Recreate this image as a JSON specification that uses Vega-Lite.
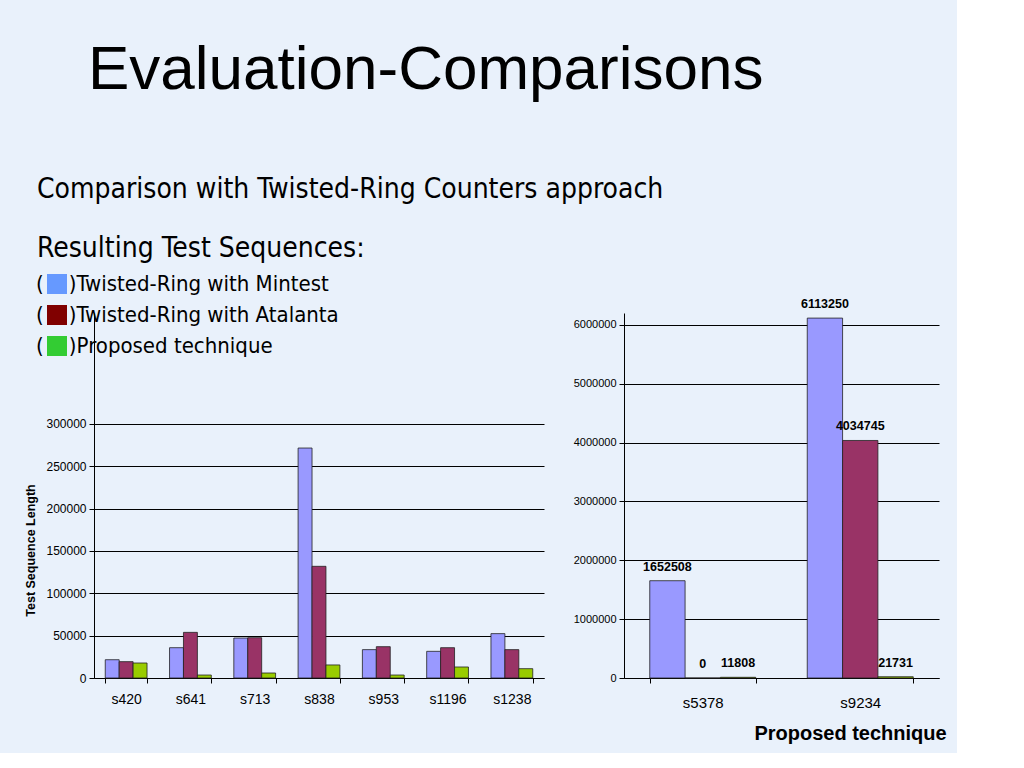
{
  "$schema": "https://vega.github.io/schema/vega-lite/v6.json",
  "background": "#e9f1fb",
  "padding": {"left": 24, "top": 39, "right": 10, "bottom": 10},
  "title": {
    "text": "Evaluation-Comparisons",
    "anchor": "start",
    "font": "Liberation Sans",
    "fontSize": 62,
    "fontWeight": "normal",
    "color": "#000000",
    "dx": 64,
    "offset": 74
  },
  "datasets": {
    "small": [
      {"circuit": "s420", "method": "Twisted-Ring with Mintest", "length": 21600},
      {"circuit": "s420", "method": "Twisted-Ring with Atalanta", "length": 19300},
      {"circuit": "s420", "method": "Proposed technique", "length": 17700},
      {"circuit": "s641", "method": "Twisted-Ring with Mintest", "length": 35800},
      {"circuit": "s641", "method": "Twisted-Ring with Atalanta", "length": 53900},
      {"circuit": "s641", "method": "Proposed technique", "length": 3500},
      {"circuit": "s713", "method": "Twisted-Ring with Mintest", "length": 47200},
      {"circuit": "s713", "method": "Twisted-Ring with Atalanta", "length": 47600},
      {"circuit": "s713", "method": "Proposed technique", "length": 5900},
      {"circuit": "s838", "method": "Twisted-Ring with Mintest", "length": 271600},
      {"circuit": "s838", "method": "Twisted-Ring with Atalanta", "length": 131900},
      {"circuit": "s838", "method": "Proposed technique", "length": 15400},
      {"circuit": "s953", "method": "Twisted-Ring with Mintest", "length": 33500},
      {"circuit": "s953", "method": "Twisted-Ring with Atalanta", "length": 37000},
      {"circuit": "s953", "method": "Proposed technique", "length": 3500},
      {"circuit": "s1196", "method": "Twisted-Ring with Mintest", "length": 31500},
      {"circuit": "s1196", "method": "Twisted-Ring with Atalanta", "length": 35800},
      {"circuit": "s1196", "method": "Proposed technique", "length": 13000},
      {"circuit": "s1238", "method": "Twisted-Ring with Mintest", "length": 52400},
      {"circuit": "s1238", "method": "Twisted-Ring with Atalanta", "length": 33500},
      {"circuit": "s1238", "method": "Proposed technique", "length": 11000}
    ],
    "large": [
      {"circuit": "s5378", "method": "Twisted-Ring with Mintest", "length": 1652508},
      {"circuit": "s5378", "method": "Twisted-Ring with Atalanta", "length": 0},
      {"circuit": "s5378", "method": "Proposed technique", "length": 11808},
      {"circuit": "s9234", "method": "Twisted-Ring with Mintest", "length": 6113250},
      {"circuit": "s9234", "method": "Twisted-Ring with Atalanta", "length": 4034745},
      {"circuit": "s9234", "method": "Proposed technique", "length": 21731}
    ]
  },
  "bounds": "flush",
  "spacing": 80,
  "resolve": {
    "scale": {"x": "independent", "y": "independent", "xOffset": "independent", "color": "independent", "fill": "independent"}
  },
  "hconcat": [
    {
      "width": 450,
      "height": 365,
      "data": {"name": "small"},
      "encoding": {
        "x": {
          "field": "circuit",
          "type": "nominal",
          "sort": ["s420", "s641", "s713", "s838", "s953", "s1196", "s1238"],
          "scale": {"paddingInner": 0.35, "paddingOuter": 0.175},
          "axis": {
            "title": null,
            "labelAngle": 0,
            "labelFontSize": 14,
            "labelPadding": 9,
            "tickBand": "extent",
            "tickSize": 5
          }
        },
        "xOffset": {
          "field": "method",
          "type": "nominal",
          "sort": ["Twisted-Ring with Mintest", "Twisted-Ring with Atalanta", "Proposed technique"],
          "scale": {"paddingInner": 0, "paddingOuter": 0}
        },
        "y": {
          "field": "length",
          "type": "quantitative",
          "scale": {"domain": [0, 431102], "nice": false},
          "axis": {
            "values": [0, 50000, 100000, 150000, 200000, 250000, 300000],
            "format": "d",
            "labelFontSize": 12,
            "labelPadding": 3,
            "tickSize": 5,
            "title": "Test Sequence Length",
            "titleFont": "Liberation Sans",
            "titleFontSize": 12.5,
            "titleFontWeight": "bold",
            "titleColor": "#000000",
            "titleX": -64,
            "titleY": 237,
            "titleAlign": "center",
            "titleBaseline": "middle",
            "titleAngle": -90
          }
        }
      },
      "layer": [
        {
          "mark": {"type": "square", "size": 0, "opacity": 1},
          "encoding": {
            "color": {
              "field": "method",
              "type": "nominal",
              "scale": {
                "domain": ["Twisted-Ring with Mintest", "Twisted-Ring with Atalanta", "Proposed technique"],
                "range": ["#6699ff", "#800000", "#33cc33"]
              },
              "legend": {
                "orient": "none",
                "legendX": -57,
                "legendY": -137,
                "padding": 0,
                "direction": "vertical",
                "title": ["Comparison with Twisted-Ring Counters approach", "Resulting Test Sequences:"],
                "titleFont": "Liberation Sans Narrow, DejaVu Sans Condensed, Liberation Sans",
                "titleFontSize": 28,
                "titleFontWeight": "normal",
                "titleColor": "#000000",
                "titleLineHeight": 59,
                "titleLimit": 2000,
                "titlePadding": 10,
                "labelFont": "Liberation Sans Narrow, DejaVu Sans Condensed, Liberation Sans",
                "labelFontSize": 22,
                "labelColor": "#000000",
                "labelLimit": 2000,
                "labelOffset": -32,
                "labelExpr": "'(\u00a0\u00a0\u00a0\u00a0)' + datum.label",
                "symbolType": "square",
                "symbolSize": 400,
                "symbolStrokeWidth": 0,
                "symbolOpacity": 1,
                "symbolOffset": 9,
                "rowPadding": 9
              }
            }
          }
        },
        {
          "mark": {"type": "bar", "stroke": "#222222", "strokeWidth": 0.8},
          "encoding": {
            "fill": {
              "field": "method",
              "type": "nominal",
              "scale": {
                "domain": ["Twisted-Ring with Mintest", "Twisted-Ring with Atalanta", "Proposed technique"],
                "range": ["#9999ff", "#993366", "#99cc00"]
              },
              "legend": null
            }
          }
        }
      ]
    },
    {
      "width": 315,
      "height": 365,
      "data": {"name": "large"},
      "encoding": {
        "x": {
          "field": "circuit",
          "type": "nominal",
          "sort": ["s5378", "s9234"],
          "scale": {"paddingInner": 0.327, "paddingOuter": 0.1635},
          "axis": {
            "labelAngle": 0,
            "labelFontSize": 15,
            "labelPadding": 12,
            "tickBand": "extent",
            "tickSize": 5,
            "title": "Proposed technique",
            "titleFont": "Liberation Sans",
            "titleFontSize": 20,
            "titleFontWeight": "bold",
            "titleColor": "#000000",
            "titleX": 226,
            "titleY": 55,
            "titleAlign": "center",
            "titleBaseline": "middle"
          }
        },
        "xOffset": {
          "field": "method",
          "type": "nominal",
          "sort": ["Twisted-Ring with Mintest", "Twisted-Ring with Atalanta", "Proposed technique"],
          "scale": {"paddingInner": 0, "paddingOuter": 0}
        },
        "y": {
          "field": "length",
          "type": "quantitative",
          "scale": {"domain": [0, 6200000], "nice": false},
          "axis": {
            "values": [0, 1000000, 2000000, 3000000, 4000000, 5000000, 6000000],
            "format": "d",
            "labelFontSize": 11,
            "labelPadding": 3,
            "tickSize": 5,
            "title": null
          }
        }
      },
      "layer": [
        {
          "mark": {"type": "bar", "stroke": "#222222", "strokeWidth": 0.8},
          "encoding": {
            "fill": {
              "field": "method",
              "type": "nominal",
              "scale": {
                "domain": ["Twisted-Ring with Mintest", "Twisted-Ring with Atalanta", "Proposed technique"],
                "range": ["#9999ff", "#993366", "#99cc00"]
              },
              "legend": null
            }
          }
        },
        {
          "mark": {"type": "text", "font": "Liberation Sans", "fontSize": 12.5, "fontWeight": "bold", "color": "#000000", "baseline": "middle", "dy": -14},
          "encoding": {
            "text": {"field": "length", "type": "quantitative", "format": "d"}
          }
        }
      ]
    }
  ],
  "config": {
    "font": "Liberation Sans",
    "view": {"stroke": null},
    "axis": {
      "domainColor": "#000000",
      "domainWidth": 1,
      "tickColor": "#000000",
      "tickWidth": 1,
      "labelColor": "#000000",
      "labelFont": "Liberation Sans",
      "gridColor": "#000000",
      "gridOpacity": 1,
      "gridWidth": 1
    },
    "axisX": {"grid": false}
  }
}
